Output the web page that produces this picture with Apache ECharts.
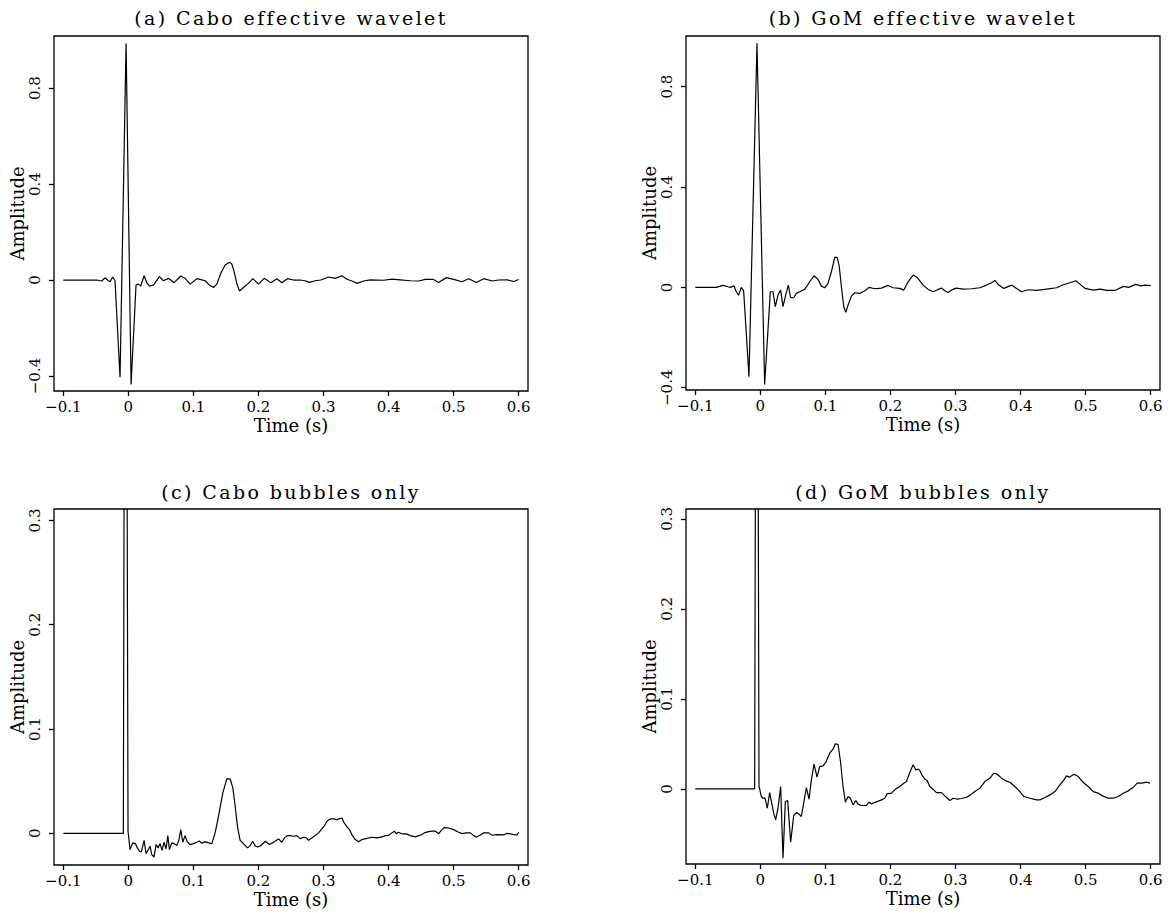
<!DOCTYPE html>
<html>
<head>
<meta charset="utf-8">
<script src="https://cdn.jsdelivr.net/npm/echarts@6/dist/echarts.min.js"></script>
<style>
html,body{margin:0;padding:0;background:#fff;}
#chart{width:1171px;height:913px;}
</style>
</head>
<body>
<div id="chart"></div>
<script>
// ---- data: [time (s), amplitude] ----
const caboWavelet = [
[-0.1,0],[-0.0487,0],[-0.041,-0.004],[-0.0358,0.0097],[-0.0307,-0.003],[-0.0282,-0.007],[-0.024,0.0125],[-0.0205,-0.003],
[-0.0128,-0.405],[-0.0035,0.986],[0.0042,-0.435],[0.0118,-0.021],[0.0154,-0.017],[0.019,-0.025],[0.0242,0.018],[0.0283,-0.011],
[0.0324,-0.025],[0.0385,-0.021],[0.0477,0.014],[0.0539,-0.003],[0.0616,0.007],[0.0703,-0.011],[0.0806,0.0167],[0.0872,0.007],
[0.095,-0.017],[0.1052,0.0056],[0.1103,0.003],[0.118,-0.003],[0.1247,-0.021],[0.1308,-0.031],[0.136,-0.017],[0.1421,0.028],
[0.1488,0.0625],[0.1554,0.0736],[0.159,0.0667],[0.1626,0.035],[0.1667,-0.014],[0.1708,-0.046],[0.1744,-0.0375],[0.1795,-0.025],
[0.1847,-0.014],[0.1913,0.0056],[0.2,-0.017],[0.2088,0.007],[0.219,-0.011],[0.2283,0.0056],[0.236,-0.011],[0.2447,0.0056],
[0.2539,0],[0.2642,0],[0.2718,-0.003],[0.2785,-0.01],[0.2872,-0.003],[0.296,0],[0.3077,0.0125],[0.318,0.007],[0.3283,0.018],
[0.336,0.003],[0.3436,-0.004],[0.3513,-0.014],[0.3616,-0.004],[0.3718,0.001],[0.3924,-0.001],[0.4052,0.004],[0.418,0.001],
[0.4334,-0.003],[0.4462,-0.004],[0.4565,0.003],[0.4683,0.003],[0.477,-0.01],[0.4888,0.01],[0.5001,0.003],[0.5129,-0.007],
[0.5231,0.0056],[0.5349,-0.01],[0.5462,0.0056],[0.559,-0.004],[0.5693,0],[0.5821,0.001],[0.5924,-0.006],[0.6,0.002]
];
const gomWavelet = [
[-0.1,0],[-0.0677,0],[-0.0575,0.008],[-0.0498,0.0025],[-0.0457,0],[-0.0406,0.0065],[-0.037,-0.0174],[-0.0334,-0.0307],
[-0.0293,0],[-0.0257,-0.0134],[-0.0175,-0.356],[-0.0052,0.973],[0.0066,-0.387],[0.0153,-0.0174],[0.0194,-0.0174],[0.023,-0.077],
[0.0271,-0.0307],[0.0312,-0.0108],[0.0348,-0.077],[0.0389,-0.0307],[0.043,0.009],[0.0466,-0.0413],[0.0512,-0.0413],[0.0553,-0.024],
[0.0605,-0.0174],[0.0682,-0.008],[0.0758,0.0224],[0.0825,0.0464],[0.0887,0.0318],[0.0938,0.005],[0.0989,-0.0015],[0.104,0.0158],
[0.1092,0.0623],[0.1143,0.1195],[0.1179,0.1195],[0.121,0.0889],[0.1246,0.0025],[0.1282,-0.0772],[0.1312,-0.0998],[0.1348,-0.0706],
[0.14,-0.0347],[0.1451,-0.0214],[0.1528,-0.024],[0.1605,-0.0134],[0.1671,0],[0.1758,-0.0054],[0.1861,-0.0028],[0.1964,0.0078],
[0.204,-0.0015],[0.2143,-0.0041],[0.2205,-0.0108],[0.2271,0.0224],[0.2348,0.049],[0.241,0.0397],[0.2502,0.0092],[0.2579,-0.0081],
[0.2656,-0.0174],[0.2733,-0.0081],[0.2784,-0.0028],[0.2835,-0.0134],[0.2887,-0.0201],[0.2938,-0.0108],[0.3005,-0.0028],[0.3117,-0.0068],
[0.3246,-0.0054],[0.3374,-0.0015],[0.3476,0.0092],[0.3553,0.0185],[0.3605,0.0278],[0.3656,0.0118],[0.3743,-0.0041],[0.3861,0.0092],
[0.3938,-0.0041],[0.4015,-0.0174],[0.4117,-0.0094],[0.4246,-0.0121],[0.44,-0.0068],[0.4553,-0.0015],[0.4656,0.0105],[0.4758,0.0185],
[0.4851,0.0264],[0.4912,0.0131],[0.4989,-0.0041],[0.5118,-0.0108],[0.522,-0.0068],[0.5323,-0.0121],[0.5451,-0.0121],[0.558,0.004],
[0.566,0],[0.577,0.012],[0.585,0.006],[0.591,0.009],[0.6,0.007]
];
const caboBubbles = [
[-0.1,0],[-0.0077,0],[-0.0045,0.95],[-0.0005,0.002],[0.0026,-0.0156],[0.0067,-0.0092],[0.0108,-0.0099],[0.0139,-0.014],
[0.017,-0.0172],[0.02,-0.0179],[0.0242,-0.0067],[0.0272,-0.0195],[0.0308,-0.0156],[0.0334,-0.0124],[0.036,-0.0204],[0.0395,-0.0227],
[0.0426,-0.0108],[0.0457,-0.014],[0.0488,-0.0099],[0.0518,-0.0163],[0.0549,-0.0086],[0.058,-0.015],[0.0606,-0.0022],[0.0631,-0.0156],
[0.0667,-0.0092],[0.0703,-0.0099],[0.0744,-0.0118],[0.0775,-0.007],[0.0806,0.0035],[0.0836,-0.0086],[0.0872,-0.0022],[0.0908,-0.0086],
[0.0949,-0.0108],[0.1,-0.0099],[0.1052,-0.0086],[0.1088,-0.0073],[0.1129,-0.0096],[0.118,-0.008],[0.1231,-0.0092],[0.1283,-0.0099],
[0.1334,0.0004],[0.1385,0.0163],[0.1452,0.0387],[0.1513,0.0521],[0.1565,0.0521],[0.1606,0.0435],[0.1642,0.0259],[0.1677,0.0067],
[0.1718,-0.0067],[0.1769,-0.0099],[0.1831,-0.014],[0.1872,-0.0118],[0.1913,-0.0076],[0.1944,-0.0118],[0.1985,-0.0131],[0.2036,-0.0118],
[0.2103,-0.0076],[0.2169,-0.0108],[0.2231,-0.0086],[0.2308,-0.0054],[0.2359,-0.0086],[0.24,-0.0044],[0.2446,-0.0022],[0.2488,-0.0022],
[0.2539,-0.0028],[0.259,-0.0022],[0.2642,-0.0051],[0.2693,-0.0038],[0.2734,-0.0044],[0.277,-0.0067],[0.2821,-0.0044],[0.2872,-0.0022],
[0.2924,0.0004],[0.2975,0.0042],[0.3016,0.0074],[0.3052,0.0115],[0.3103,0.0138],[0.3154,0.0138],[0.3206,0.0131],[0.3247,0.0141],
[0.3283,0.0147],[0.3318,0.0099],[0.336,0.0061],[0.34,0.0035],[0.3436,-0.0012],[0.3488,-0.006],[0.3539,-0.008],[0.359,-0.006],
[0.3667,-0.0048],[0.3744,-0.0038],[0.3821,-0.0044],[0.3898,-0.0035],[0.3949,-0.0022],[0.4,-0.0019],[0.4052,0.0004],[0.4088,0.002],
[0.4118,-0.0003],[0.4154,0.001],[0.4206,-0.0006],[0.4272,-0.0006],[0.4334,-0.0022],[0.4411,-0.0035],[0.4462,-0.0022],[0.4513,-0.0012],
[0.4549,0.0004],[0.46,0.0013],[0.4667,0.002],[0.4718,0.002],[0.477,-0.0003],[0.4821,0.0035],[0.4857,0.0055],[0.4924,0.0051],
[0.5,0.0035],[0.5077,0.001],[0.5129,-0.0003],[0.5195,0.0004],[0.5257,0.0004],[0.5308,-0.0022],[0.5349,-0.0035],[0.5411,-0.0016],
[0.5462,0.0004],[0.5539,0.0004],[0.559,-0.0019],[0.5667,-0.0012],[0.577,-0.0016],[0.5821,0],[0.5872,-0.0006],[0.5924,-0.0012],
[0.5975,-0.0016],[0.6,0.001]
];
const gomBubbles = [
[-0.1,0],[-0.0088,0],[-0.0055,0.97],[-0.0021,0.0026],[-0.0011,0],[0.0015,-0.0085],[0.004,-0.0104],[0.0071,-0.0104],
[0.0107,-0.0215],[0.0143,-0.0041],[0.0174,-0.0159],[0.0205,-0.027],[0.0235,-0.0344],[0.0271,-0.0215],[0.0312,0.0026],[0.0348,-0.077],
[0.0384,-0.0141],[0.042,-0.013],[0.0466,-0.0593],[0.0512,-0.03],[0.0553,-0.0263],[0.0589,-0.0278],[0.063,-0.0307],[0.0666,-0.0159],
[0.0707,0.0015],[0.0748,-0.0115],[0.0784,0.01],[0.0825,0.0274],[0.0871,0.013],[0.0912,0.0248],[0.0964,0.0256],[0.1005,0.0293],
[0.1066,0.0396],[0.1117,0.0441],[0.1153,0.05],[0.1194,0.0496],[0.1235,0.0285],[0.1271,0.0026],[0.1307,-0.0148],[0.1348,-0.0085],
[0.1384,-0.0104],[0.1425,-0.0178],[0.1466,-0.013],[0.1502,-0.017],[0.1553,-0.0185],[0.163,-0.0185],[0.1671,-0.0148],[0.1707,-0.0167],
[0.1784,-0.0144],[0.1861,-0.0122],[0.1912,-0.0104],[0.1948,-0.0056],[0.2015,-0.0048],[0.2082,0],[0.2143,0.0026],[0.2205,0.0063],
[0.2246,0.0081],[0.2297,0.0181],[0.2348,0.0267],[0.2389,0.0211],[0.2425,0.0219],[0.2451,0.0204],[0.2492,0.0144],[0.2528,0.0107],
[0.2564,0.0093],[0.2605,0.0026],[0.2656,-0.0004],[0.2707,-0.0041],[0.2784,-0.0041],[0.2835,-0.0078],[0.2912,-0.013],[0.2964,-0.0104],
[0.3025,-0.0115],[0.3092,-0.0107],[0.3169,-0.0093],[0.323,-0.0067],[0.3297,-0.003],[0.3374,0.0007],[0.3451,0.0081],[0.3528,0.0119],
[0.3589,0.0174],[0.364,0.0163],[0.3707,0.0119],[0.3774,0.0089],[0.3835,0.0074],[0.3912,0.0026],[0.3989,-0.003],[0.4051,-0.0085],
[0.4143,-0.0104],[0.4246,-0.0122],[0.4297,-0.0122],[0.4374,-0.0096],[0.4451,-0.0067],[0.4528,-0.003],[0.4605,0.0044],[0.4666,0.01],
[0.4707,0.0144],[0.4748,0.013],[0.482,0.0163],[0.4887,0.0137],[0.4964,0.007],[0.504,0.0026],[0.5117,-0.003],[0.5194,-0.0048],
[0.5261,-0.0078],[0.5348,-0.0104],[0.5425,-0.0104],[0.5502,-0.0085],[0.5579,-0.0048],[0.5656,-0.0022],[0.5733,0.0019],[0.5794,0.0063],
[0.5861,0.0063],[0.5938,0.0074],[0.5989,0.0063]
];

const panelTitles = ['(a) Cabo effective wavelet','(b) GoM effective wavelet','(c) Cabo bubbles only','(d) GoM bubbles only'];
const xTickValues = [-0.1,0,0.1,0.2,0.3,0.4,0.5,0.6];
const xTickLabels = ['\u22120.1','0','0.1','0.2','0.3','0.4','0.5','0.6'];
const yTickValuesTop = [-0.4,0,0.4,0.8];
const yTickLabelsTop = ['\u22120.4','0','0.4','0.8'];
const yTickValuesBottom = [0,0.1,0.2,0.3];
const yTickLabelsBottom = ['0','0.1','0.2','0.3'];
const xAxisName = 'Time (s)';
const yAxisName = 'Amplitude';

// ---- layout ----
const FONT = '"DejaVu Serif", serif';
const panels = [
  {data: caboWavelet, grid:{left:54, top:36, width:474, height:355}, ymin:-0.4625, ymax:1.017, yv:yTickValuesTop, yl:yTickLabelsTop},
  {data: gomWavelet,  grid:{left:686,top:36, width:474, height:354}, ymin:-0.409,  ymax:1.002, yv:yTickValuesTop, yl:yTickLabelsTop},
  {data: caboBubbles, grid:{left:54, top:509,width:474, height:356}, ymin:-0.0304, ymax:0.311, yv:yTickValuesBottom, yl:yTickLabelsBottom},
  {data: gomBubbles,  grid:{left:686,top:509,width:474, height:355}, ymin:-0.0835, ymax:0.311, yv:yTickValuesBottom, yl:yTickLabelsBottom}
];

function labelFor(vals, labs){
  return function(v){
    for (let i=0;i<vals.length;i++){ if (Math.abs(vals[i]-v) < 1e-9) return labs[i]; }
    return '';
  };
}

const option = {
  animation: false,
  backgroundColor: '#fff',
  grid: panels.map(p => Object.assign({show:true, borderColor:'#000', borderWidth:1.3, backgroundColor:'transparent', containLabel:false}, p.grid)),
  xAxis: panels.map((p,i) => ({
    type:'value', gridIndex:i, min:-0.1143, max:0.6143, position:'bottom',
    name: xAxisName, nameLocation:'middle', nameGap:25,
    nameTextStyle:{fontFamily:FONT, fontSize:18, color:'#000'},
    axisLine:{show:false, onZero:false},
    splitLine:{show:false},
    axisTick:{show:true, inside:false, length:5, customValues:xTickValues, lineStyle:{color:'#000', width:1.3}},
    axisLabel:{show:true, customValues:xTickValues, formatter:labelFor(xTickValues,xTickLabels), margin:8,
               fontFamily:FONT, fontSize:15, color:'#000'}
  })),
  yAxis: panels.map((p,i) => ({
    type:'value', gridIndex:i, min:p.ymin, max:p.ymax, position:'left',
    name: yAxisName, nameLocation:'middle', nameGap:27, nameRotate:90,
    nameTextStyle:{fontFamily:FONT, fontSize:18, color:'#000'},
    axisLine:{show:false, onZero:false},
    splitLine:{show:false},
    axisTick:{show:true, inside:false, length:5, customValues:p.yv, lineStyle:{color:'#000', width:1.3}},
    axisLabel:{show:true, rotate:90, customValues:p.yv, formatter:labelFor(p.yv,p.yl), margin:12,
               fontFamily:FONT, fontSize:15, color:'#000'}
  })),
  series: panels.map((p,i) => ({
    type:'line', xAxisIndex:i, yAxisIndex:i, data:p.data,
    showSymbol:false, symbol:'none', clip:true, smooth:false,
    lineStyle:{color:'#000', width:1.2}
  })),
  graphic: panels.map((p,i) => ({
    type:'text', x: p.grid.left + p.grid.width/2, y: (i<2 ? 18 : 492),
    style:{text: panelTitles[i], fontFamily:FONT, fontSize:19, fill:'#000', align:'center', verticalAlign:'middle'}
  }))
};

const chart = echarts.init(document.getElementById('chart'), null, {renderer:'svg', width:1171, height:913});
function spaceTitles(){
  document.querySelectorAll('#chart svg text').forEach(t => {
    if (panelTitles.indexOf(t.textContent) >= 0) t.style.letterSpacing = '2.4px';
  });
}
chart.on('finished', spaceTitles);
chart.setOption(option);
spaceTitles();
setTimeout(spaceTitles, 50);
</script>
</body>
</html>
